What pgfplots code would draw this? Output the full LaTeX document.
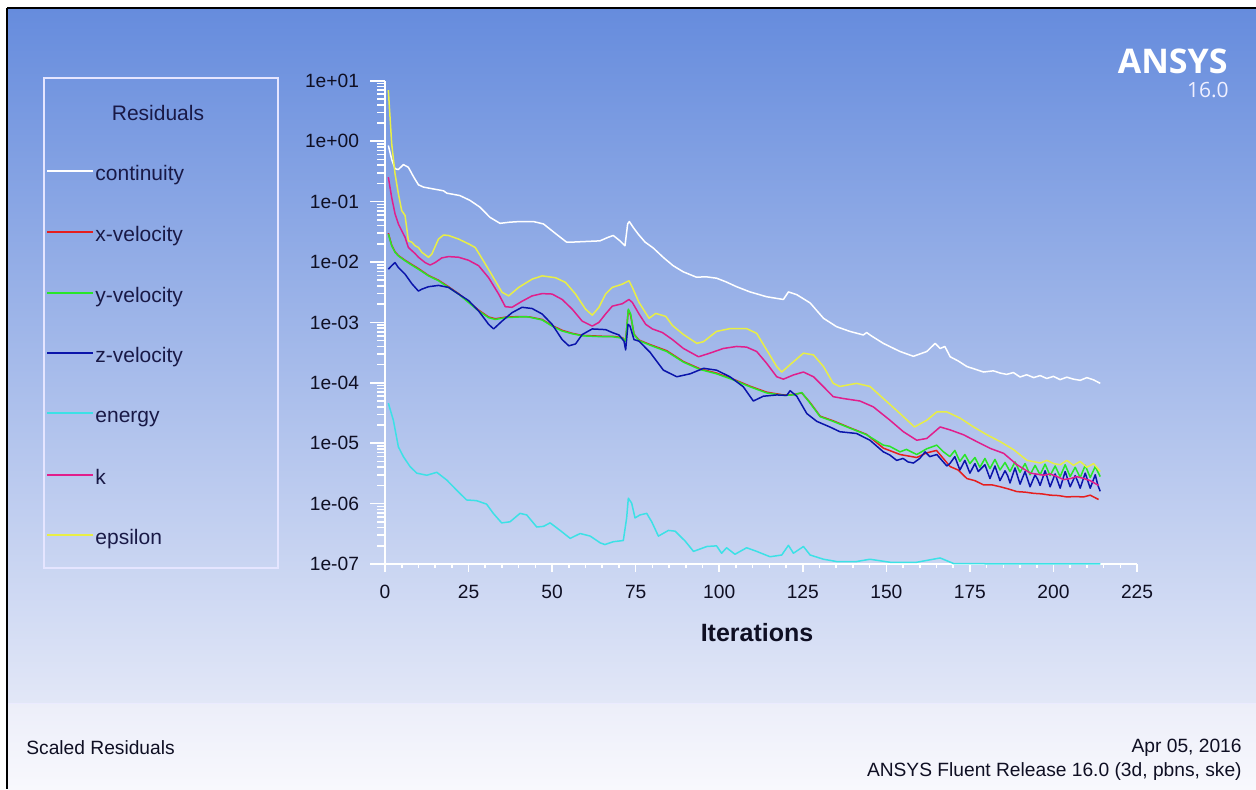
\documentclass[border=0pt]{standalone}
\usepackage{fontspec}
\setmainfont{Liberation Sans}
\newfontfamily\ansysfont{Open Sans}
\usepackage{pgfplots}
\pgfplotsset{compat=1.18}
\definecolor{bgtop}{RGB}{102,140,221}
\definecolor{bgbot}{RGB}{226,231,247}
\definecolor{ftop}{RGB}{236,238,249}
\definecolor{fbot}{RGB}{248,248,253}
\definecolor{legtxt}{RGB}{25,25,70}
\definecolor{ticktxt}{RGB}{15,15,35}
\definecolor{cxvel}{RGB}{230,30,30}
\definecolor{cyvel}{RGB}{40,230,40}
\definecolor{czvel}{RGB}{10,20,170}
\definecolor{cenergy}{RGB}{60,225,230}
\definecolor{ck}{RGB}{225,30,140}
\definecolor{ceps}{RGB}{232,238,70}
\begin{document}
\begin{tikzpicture}
\begin{scope}[x=0.5pt,y=-0.5pt]
  \fill[white] (0,0) rectangle (1256,789);
  \shade[top color=bgtop, bottom color=bgbot] (8,9) rectangle (1256,703);
  \shade[top color=ftop, bottom color=fbot] (8,703) rectangle (1256,789);
  \draw[white!92!blue, line width=0.6pt] (8,703.5) -- (1256,703.5);
  \draw[black, line width=1pt] (7,8) -- (7,789);
  \draw[black, line width=1pt] (7,8) -- (1256,8);
  % legend box
  \draw[white!90!blue, line width=0.7pt] (44,78) rectangle (278,568);
  \node[anchor=base, text=legtxt, font=\fontsize{10.5}{12}\selectfont] at (158,120) {Residuals};
  \draw[white, line width=0.8pt] (47,171) -- (93,171);
  \node[anchor=base west, inner sep=0pt, text=legtxt, font=\fontsize{10.5}{12}\selectfont] at (95,180) {continuity};
  \draw[cxvel, line width=0.8pt] (47,232) -- (93,232);
  \node[anchor=base west, inner sep=0pt, text=legtxt, font=\fontsize{10.5}{12}\selectfont] at (95,241) {x-velocity};
  \draw[cyvel, line width=0.8pt] (47,293) -- (93,293);
  \node[anchor=base west, inner sep=0pt, text=legtxt, font=\fontsize{10.5}{12}\selectfont] at (95,302) {y-velocity};
  \draw[czvel, line width=0.8pt] (47,353) -- (93,353);
  \node[anchor=base west, inner sep=0pt, text=legtxt, font=\fontsize{10.5}{12}\selectfont] at (95,362) {z-velocity};
  \draw[cenergy, line width=0.8pt] (47,413) -- (93,413);
  \node[anchor=base west, inner sep=0pt, text=legtxt, font=\fontsize{10.5}{12}\selectfont] at (95,422) {energy};
  \draw[ck, line width=0.8pt] (47,475) -- (93,475);
  \node[anchor=base west, inner sep=0pt, text=legtxt, font=\fontsize{10.5}{12}\selectfont] at (95,484) {k};
  \draw[ceps, line width=0.8pt] (47,535) -- (93,535);
  \node[anchor=base west, inner sep=0pt, text=legtxt, font=\fontsize{10.5}{12}\selectfont] at (95,544) {epsilon};
  % logo
  \node[anchor=base east, inner sep=0pt, text=white, font=\ansysfont\bfseries\fontsize{17}{19}\selectfont] at (1228,73) {ANSYS};
  \node[anchor=base east, inner sep=0pt, text=white!94!blue, font=\ansysfont\fontsize{10.5}{12}\selectfont] at (1229,97) {16.0};
  % footer
  \node[anchor=base west, inner sep=0pt, text=ticktxt, font=\fontsize{9.6}{11}\selectfont] at (26,754) {Scaled Residuals};
  \node[anchor=base east, inner sep=0pt, text=ticktxt, font=\fontsize{9.6}{11}\selectfont] at (1242,752) {Apr 05, 2016};
  \node[anchor=base east, inner sep=0pt, text=ticktxt, font=\fontsize{9.6}{11}\selectfont] at (1242,776) {ANSYS Fluent Release 16.0 (3d, pbns, ske)};
\end{scope}
\begin{axis}[
  at={(192.5pt,-282pt)}, anchor=south west,
  width=376pt, height=241.6pt, scale only axis,
  xmin=0, xmax=225, ymode=log, ymin=1e-7, ymax=1e1,
  clip=false,
  axis lines=left,
  axis line style={-, white, line width=1pt},
  xtick={0,25,50,75,100,125,150,175,200,225},
  minor x tick num=4,
  ytick={1e-7,1e-6,1e-5,1e-4,1e-3,1e-2,1e-1,1,10},
  yticklabels={1e-07,1e-06,1e-05,1e-04,1e-03,1e-02,1e-01,1e+00,1e+01},
  minor ytick={2e-7,3e-7,4e-7,5e-7,6e-7,7e-7,8e-7,9e-7,
    2e-6,3e-6,4e-6,5e-6,6e-6,7e-6,8e-6,9e-6,
    2e-5,3e-5,4e-5,5e-5,6e-5,7e-5,8e-5,9e-5,
    2e-4,3e-4,4e-4,5e-4,6e-4,7e-4,8e-4,9e-4,
    2e-3,3e-3,4e-3,5e-3,6e-3,7e-3,8e-3,9e-3,
    2e-2,3e-2,4e-2,5e-2,6e-2,7e-2,8e-2,9e-2,
    2e-1,3e-1,4e-1,5e-1,6e-1,7e-1,8e-1,9e-1,
    2,3,4,5,6,7,8,9},
  tick align=outside,
  major tick length=4pt, minor tick length=2pt,
  every tick/.style={white, line width=0.8pt},
  y tick style={/pgfplots/major tick length=7.5pt,/pgfplots/minor tick length=4pt},
  /pgf/number format/assume math mode=true,
  ticklabel style={text=ticktxt, font=\fontsize{9.6}{11}\selectfont},
  xticklabel style={yshift=-3pt},
  yticklabel style={xshift=-5.5pt},
  xlabel={Iterations},
  xlabel style={at={(axis description cs:0.5,0)}, anchor=center, yshift=-34.5pt, xshift=-2pt, text=ticktxt, font=\bfseries\fontsize{12.5}{14}\selectfont},
  every axis plot/.append style={line width=0.75pt, line join=round},
]
% continuity
\addplot[white] coordinates {
(1,0.85) (2,0.50) (3,0.35) (4,0.34) (5.5,0.41) (7,0.37) (8.5,0.26) (10,0.19) (11.5,0.174)
(14.5,0.162) (17.5,0.151) (18.5,0.138) (22.4,0.126) (25.4,0.105) (28.4,0.081) (31.4,0.055)
(34.4,0.0437) (37.4,0.0457) (40.4,0.0468) (44.4,0.0468) (47.4,0.0427) (51.3,0.0288) (54.3,0.0214)
(56.3,0.0214) (60.3,0.0219) (64.3,0.0224) (66.8,0.0257) (68.3,0.0275) (70.3,0.0224) (71.8,0.0186)
(72.6,0.0427) (73.1,0.0468) (74.3,0.0372) (75.8,0.0288) (77.8,0.0214) (80.3,0.0170) (83.2,0.0120)
(86.2,0.0087) (89.2,0.0069) (93.2,0.0056) (96,0.0057) (99.2,0.0054) (102,0.0047) (105.2,0.0039)
(109.2,0.0032) (114.2,0.00266) (117,0.00251) (119.2,0.0024) (120.7,0.0032) (123.2,0.00288)
(127.2,0.0021) (131.2,0.00117) (135.1,0.00085) (139.1,0.00071) (143.1,0.00062) (144.1,0.00068)
(145.5,0.0006) (149.1,0.00045) (154.1,0.00033) (158.1,0.000275) (162.1,0.00033) (164.6,0.00045)
(166.1,0.00037) (167.5,0.00040) (169.1,0.00027) (171.5,0.00023) (174.1,0.000186) (177,0.000165)
(179.1,0.000151) (182,0.000158) (184.1,0.000145) (186,0.000138) (188,0.000148) (190,0.000125)
(192,0.000136) (194.1,0.000122) (196,0.000132) (198,0.000118) (200,0.000128) (202,0.000113)
(204,0.000124) (206,0.000115) (208,0.000110) (210,0.000122) (212,0.000112) (214,0.000098)
};
% x-velocity
\addplot[cxvel] coordinates {
(1,0.030) (2,0.019) (3,0.0148) (4,0.0128) (6,0.0107) (8,0.0091) (10,0.0078) (13,0.006)
(16,0.005) (19,0.0039) (22,0.003) (25,0.0022) (28,0.0016) (31,0.00123) (33,0.00115)
(36,0.00122) (40,0.00125) (43,0.00124) (47,0.00112) (50,0.00089) (53,0.00074) (56,0.00066)
(59,0.00061) (62,0.0006) (65,0.00059) (68,0.00059) (71,0.00056) (72,0.0005) (72.8,0.0016)
(73.5,0.0013) (74.5,0.00064) (76,0.00051) (79.3,0.00043) (84.3,0.00034) (89.3,0.000225)
(94.3,0.00017) (99.2,0.000145) (104.2,0.000115) (109.2,8.8e-5) (114.2,7.0e-5) (119.2,6.3e-5)
(122.2,6.4e-5) (124.7,6.8e-5) (127.2,4.7e-5) (130.2,2.8e-5) (134.1,2.35e-5) (139.1,1.8e-5)
(144.1,1.4e-5) (149.1,8.3e-6) (154.1,6.5e-6) (159.1,5.8e-6) (162,6.9e-6) (165,7.6e-6)
(169.1,4.1e-6) (171.5,3.6e-6) (174.1,2.6e-6) (176.5,2.4e-6) (179.1,2.04e-6) (181.5,2.05e-6)
(184.1,1.9e-6) (186.5,1.75e-6) (189.1,1.58e-6) (191.5,1.55e-6) (194.1,1.48e-6) (196.5,1.45e-6)
(199.1,1.38e-6) (201.5,1.36e-6) (204,1.29e-6) (206.5,1.31e-6) (209,1.29e-6) (211,1.38e-6) (213.5,1.17e-6)
};
% y-velocity
\addplot[cyvel] coordinates {
(1,0.029) (2,0.0186) (3,0.0145) (4,0.0126) (6,0.0105) (8,0.0089) (10,0.0076) (13,0.0059)
(16,0.0049) (19,0.0038) (22,0.00295) (25,0.00214) (28,0.00155) (31,0.0012) (33,0.00112)
(36,0.0012) (40,0.00123) (43,0.00123) (47,0.0011) (50,0.00087) (53,0.00072) (56,0.00065)
(59,0.0006) (62,0.00059) (65,0.00058) (68,0.00058) (71,0.00055) (72,0.00049) (72.8,0.00166)
(73.5,0.00138) (74.5,0.00063) (76,0.0005) (79.3,0.00042) (84.3,0.00033) (89.3,0.00022)
(94.3,0.000166) (99.2,0.000141) (104.2,0.000112) (109.2,8.6e-5) (114.2,6.8e-5) (119.2,6.2e-5)
(122.2,6.3e-5) (124.7,6.9e-5) (127.2,4.6e-5) (130.2,2.75e-5) (134.1,2.3e-5) (139.1,1.78e-5)
(144.1,1.38e-5) (149.1,9.3e-6) (151,8.9e-6) (154.1,7.2e-6) (156,7.9e-6) (159.1,6.5e-6)
(162.1,8.1e-6) (165.1,9.3e-6) (167.1,7.2e-6) (169,6.0e-6) (170.5,7.6e-6) (172,5.0e-6)
(173.5,6.5e-6) (175,4.6e-6) (176.5,5.8e-6) (178,4.0e-6) (179.5,5.6e-6) (181,3.8e-6)
(182.5,5.4e-6) (184,3.6e-6) (185.5,4.8e-6) (187,3.4e-6) (188.5,4.9e-6) (190,3.3e-6)
(191.5,4.6e-6) (193,3.0e-6) (194.5,4.3e-6) (196,3.0e-6) (197.5,4.5e-6) (199,2.9e-6)
(200.5,4.2e-6) (202,2.8e-6) (203.5,4.4e-6) (205,2.8e-6) (206.5,4.0e-6) (208,2.7e-6)
(209.5,4.3e-6) (211,2.7e-6) (212.5,4.1e-6) (214,2.8e-6)
};
% z-velocity
\addplot[czvel] coordinates {
(1,0.0076) (2,0.0087) (3,0.0098) (4,0.0081) (6,0.0063) (8,0.0044) (10,0.0033) (11,0.00355)
(13,0.0039) (16,0.0041) (19,0.0038) (22,0.00295) (25,0.0023) (28,0.00155) (31,0.00093)
(32.5,0.00078) (35,0.00105) (38,0.00145) (41,0.00178) (44,0.0017) (47,0.00138) (50,0.00093)
(53,0.00052) (55,0.00041) (57,0.00044) (59,0.00063) (62,0.00078) (66,0.00076) (68,0.00068)
(70,0.00062) (71.5,0.00049) (72,0.00035) (72.7,0.00093) (73.3,0.00087) (74.5,0.00052)
(76,0.00049) (79.3,0.00032) (83.3,0.000162) (87.3,0.000126) (91.3,0.000141) (95.3,0.000174)
(99.2,0.000162) (103.2,0.000126) (107.2,8.6e-5) (110.2,5.0e-5) (113.2,6.0e-5) (117.2,6.3e-5)
(120.2,6.2e-5) (121.2,7.4e-5) (123.2,6.0e-5) (126.2,3.1e-5) (129.2,2.3e-5) (133.1,1.86e-5)
(136.1,1.55e-5) (141.1,1.45e-5) (145.1,1.12e-5) (149.1,7.2e-6) (151,6.4e-6) (153.1,5.2e-6) (155,5.6e-6)
(156.5,4.9e-6) (158.1,4.7e-6) (160,5.6e-6) (161.6,7.2e-6) (163,6.0e-6) (165.1,6.5e-6) (168.1,4.2e-6)
(169,4.6e-6) (170.5,6.0e-6) (172,3.6e-6) (173.5,5.2e-6) (175,3.2e-6) (176.5,4.6e-6)
(177.5,3.4e-6) (179.5,4.4e-6) (181,2.6e-6) (182.5,4.2e-6) (184,2.4e-6) (185.5,3.5e-6)
(186.3,2.9e-6) (187,2.2e-6) (188.5,3.9e-6) (190,2.1e-6) (191.5,3.4e-6) (193,1.9e-6)
(194.5,3.0e-6) (195.3,2.5e-6) (196,2.0e-6) (197.5,3.5e-6) (199,1.9e-6) (200.5,3.1e-6)
(202,1.8e-6) (203.5,3.4e-6) (205,1.9e-6) (206.5,2.9e-6) (207.3,2.3e-6) (208,1.8e-6)
(209.5,3.2e-6) (211,1.8e-6) (212.5,3.0e-6) (213.3,2.0e-6) (214,1.6e-6)
};
% energy
\addplot[cenergy] coordinates {
(1,4.6e-5) (2.5,2.4e-5) (4,8.7e-6) (5.5,6.0e-6) (7.5,4.1e-6) (9.5,3.2e-6) (12.5,2.95e-6)
(15.5,3.3e-6) (18.5,2.45e-6) (21.4,1.68e-6) (24.4,1.15e-6) (27.4,1.12e-6) (30.4,9.8e-7)
(32.4,6.9e-7) (34.9,4.8e-7) (37.4,5.0e-7) (40.4,6.9e-7) (42.4,6.5e-7) (45.4,4.1e-7)
(47.4,4.2e-7) (49.4,4.8e-7) (52.4,3.6e-7) (55.4,2.66e-7) (58.4,3.2e-7) (61.4,2.9e-7)
(64.4,2.24e-7) (65.8,2.1e-7) (68.3,2.34e-7) (71.3,2.45e-7) (72.3,5.8e-7) (72.8,1.23e-6)
(73.8,1.02e-6) (74.8,5.8e-7) (76.3,6.5e-7) (78.3,6.9e-7) (79.8,5.0e-7) (81.8,2.9e-7)
(84.8,3.6e-7) (86.8,3.5e-7) (89.8,2.4e-7) (92.3,1.62e-7) (96.3,1.95e-7) (99.2,2.0e-7)
(100.7,1.51e-7) (102.2,1.86e-7) (104.7,1.45e-7) (108.2,1.86e-7) (111.2,1.62e-7)
(115.2,1.32e-7) (118.7,1.41e-7) (120.7,2.04e-7) (122.2,1.51e-7) (125.2,1.95e-7)
(127.2,1.41e-7) (131.2,1.2e-7) (135.1,1.1e-7) (141.1,1.1e-7) (145.1,1.2e-7) (151.1,1.07e-7)
(159.1,1.07e-7) (166.1,1.26e-7) (170.1,1.02e-7) (180,1.01e-7) (214,1.01e-7)
};
% k
\addplot[ck] coordinates {
(1,0.254) (2,0.117) (3,0.063) (4,0.0427) (5,0.033) (6,0.0257) (7,0.0174) (8,0.0155) (9,0.0138)
(10,0.012) (12,0.0098) (13.5,0.0089) (15,0.0098) (17,0.0117) (19,0.0123) (22,0.012) (25,0.0107)
(28,0.0087) (31,0.0055) (34,0.00295) (36,0.00182) (38,0.00178) (41,0.00224) (44,0.00275)
(47,0.0030) (50,0.00295) (53,0.0024) (56,0.00166) (59,0.00105) (62,0.00087) (64,0.001)
(66,0.00138) (68,0.00186) (71,0.00204) (73,0.0024) (74,0.00214) (76,0.00138) (78,0.00093)
(80,0.00078) (83,0.00068) (86,0.00052) (89.3,0.00037) (93.8,0.00027) (97.2,0.00031)
(101.2,0.00037) (105.2,0.0004) (108.2,0.00039) (111.2,0.00033) (114.2,0.00021) (117.2,0.000126)
(119.2,0.000115) (122.2,0.000135) (125.2,0.000151) (128.2,0.000126) (131.2,8.6e-5)
(134.1,5.9e-5) (137.1,5.5e-5) (142.1,5.0e-5) (146.1,4.0e-5) (151.1,2.4e-5) (155.1,1.55e-5)
(159.1,1.12e-5) (162.1,1.2e-5) (166.1,1.86e-5) (169.1,1.66e-5) (173.1,1.38e-5) (177.1,1.06e-5)
(181.1,8.2e-6) (185.1,6.8e-6) (189.1,4.4e-6) (193.1,3.2e-6) (197.1,2.95e-6) (199,3.1e-6)
(201.1,2.8e-6) (203,2.5e-6) (205.1,2.6e-6) (207,2.8e-6) (209.1,2.6e-6) (211,2.4e-6) (213.5,2.0e-6)
};
% epsilon
\addplot[ceps] coordinates {
(1,7.0) (2,0.91) (3,0.29) (4,0.135) (5,0.071) (6,0.059) (7,0.0224) (8,0.0214) (9,0.0186)
(10,0.0174) (11,0.0145) (13,0.012) (14,0.0135) (16,0.024) (17.5,0.028) (19,0.0275) (22,0.024)
(25,0.020) (27,0.0174) (30,0.0093) (33,0.0049) (35,0.00316) (37,0.00275) (40,0.0038)
(44,0.0052) (47,0.0059) (51,0.0055) (54,0.0046) (57,0.00295) (60,0.00166) (62,0.00132)
(64,0.00178) (66,0.00295) (68,0.0038) (71,0.0043) (73,0.0049) (74,0.0038) (76,0.00214)
(79,0.00117) (81,0.00141) (84,0.00126) (86,0.00089) (89.3,0.00063) (93.3,0.00045)
(95.3,0.00048) (99.2,0.00071) (103.2,0.00079) (108.2,0.00079) (111.2,0.00066) (114.2,0.00035)
(117.2,0.000186) (118.7,0.000151) (121.2,0.0002) (125.2,0.00031) (128.2,0.00029)
(131.2,0.000186) (134.1,9.8e-5) (136.1,8.7e-5) (141.1,9.8e-5) (145.1,8.7e-5) (149.1,5.5e-5)
(154.1,3.1e-5) (158.4,1.86e-5) (162.1,2.4e-5) (165.1,3.3e-5) (168.1,3.3e-5) (172.1,2.6e-5)
(176.1,1.86e-5) (180.1,1.38e-5) (184.1,1.06e-5) (188.1,7.8e-6) (192.1,5.2e-6) (196.1,4.7e-6)
(198,5.2e-6) (200.1,4.6e-6) (202,4.4e-6) (204,5.2e-6) (206,4.3e-6) (208,5.0e-6) (210,4.0e-6)
(212,4.6e-6) (214,3.4e-6)
};
\end{axis}
\pgfresetboundingbox
\path[use as bounding box] (0,0) rectangle (628pt,-394.5pt);
\end{tikzpicture}
\end{document}
